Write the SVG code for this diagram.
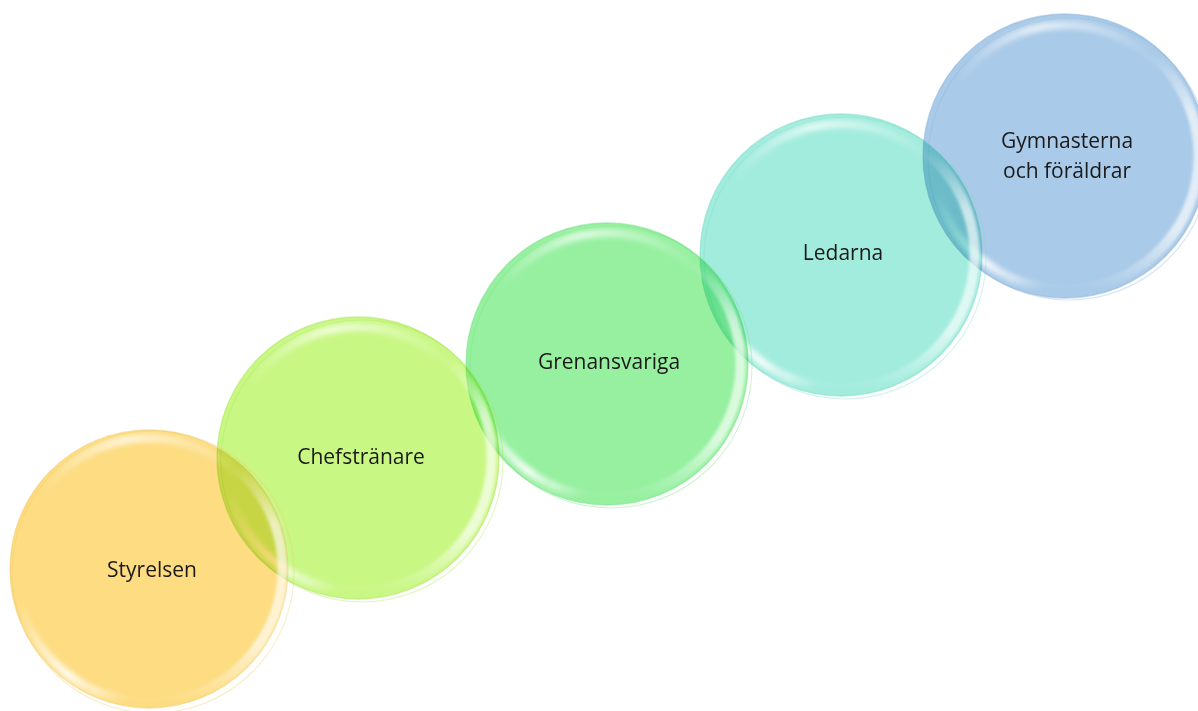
<svg xmlns="http://www.w3.org/2000/svg" width="1198" height="711" viewBox="0 0 1198 711">
  <defs>
    <filter id="soft" x="-20%" y="-20%" width="140%" height="140%">
      <feGaussianBlur stdDeviation="2.5"/>
    </filter>
    <filter id="soft2" x="-20%" y="-20%" width="140%" height="140%">
      <feGaussianBlur stdDeviation="1.6"/>
    </filter>
    <linearGradient id="hlTop" x1="0" y1="0" x2="1" y2="0">
      <stop offset="0" stop-color="#fff" stop-opacity="0"/>
      <stop offset="0.4" stop-color="#fff" stop-opacity="0.7"/>
      <stop offset="1" stop-color="#fff" stop-opacity="0"/>
    </linearGradient>
    <linearGradient id="hlLow" x1="1" y1="1" x2="0" y2="0">
      <stop offset="0" stop-color="#fff" stop-opacity="0"/>
      <stop offset="0.4" stop-color="#fff" stop-opacity="0.9"/>
      <stop offset="1" stop-color="#fff" stop-opacity="0"/>
    </linearGradient>
    <linearGradient id="hlRim" x1="0" y1="0" x2="0" y2="1">
      <stop offset="0" stop-color="#fff" stop-opacity="0"/>
      <stop offset="0.25" stop-color="#fff" stop-opacity="0.65"/>
      <stop offset="0.75" stop-color="#fff" stop-opacity="0.65"/>
      <stop offset="1" stop-color="#fff" stop-opacity="0"/>
    </linearGradient>
    <g id="bubbleFx">
      <circle cx="4" cy="3" r="141" fill="none" stroke="currentColor" stroke-opacity="0.35" stroke-width="1.2"/>
      <path d="M 86.1 -102.6 A 134 134 0 0 1 -56.6 121.4" fill="none" stroke="url(#hlRim)" stroke-width="10" filter="url(#soft2)"/>
      <path d="M -107.3 -75.1 A 131 131 0 0 1 92.6 -92.6" fill="none" stroke="url(#hlTop)" stroke-width="8" stroke-linecap="round" filter="url(#soft)"/>
      <path d="M -23.1 131 A 133 133 0 0 1 -128.5 34.4" fill="none" stroke="url(#hlLow)" stroke-width="8" stroke-linecap="round" filter="url(#soft)"/>
    </g>
  </defs>
  <style>
    .fill { mix-blend-mode: multiply; stroke: currentColor; stroke-width: 1.3; stroke-opacity: 0.55; }
    .lbl { font-family: "Open Sans", Lato, "Liberation Sans", sans-serif; font-size: 21px; fill: #1a1a1a; text-anchor: middle; }
  </style>
  <rect width="1198" height="711" fill="#ffffff"/>

  <g id="node-gymnasterna" transform="translate(1065 156)" style="color:#8FB6DC">
    <circle class="fill" r="142" fill="#A9CAE8"/>
    <use href="#bubbleFx"/>
    <text class="lbl" x="2" y="-8">Gymnasterna</text>
    <text class="lbl" x="2" y="22">och föräldrar</text>
  </g>

  <g id="node-ledarna" transform="translate(841 255)" style="color:#80DCC8">
    <circle class="fill" r="141" fill="#A2ECDD"/>
    <use href="#bubbleFx"/>
    <text class="lbl" x="2" y="5">Ledarna</text>
  </g>

  <g id="node-grenansvariga" transform="translate(607 364)" style="color:#78E286">
    <circle class="fill" r="141" fill="#96F0A0"/>
    <use href="#bubbleFx"/>
    <text class="lbl" x="2" y="5">Grenansvariga</text>
  </g>

  <g id="node-chefstranare" transform="translate(358 458)" style="color:#ACE65A">
    <circle class="fill" r="141" fill="#C9F784"/>
    <use href="#bubbleFx"/>
    <text class="lbl" x="3" y="6">Chefstränare</text>
  </g>

  <g id="node-styrelsen" transform="translate(149 569)" style="color:#F2CC66">
    <circle class="fill" r="139" fill="#FDDC82"/>
    <use href="#bubbleFx"/>
    <text class="lbl" x="3" y="8">Styrelsen</text>
  </g>

  <g id="connectors"/>
</svg>
